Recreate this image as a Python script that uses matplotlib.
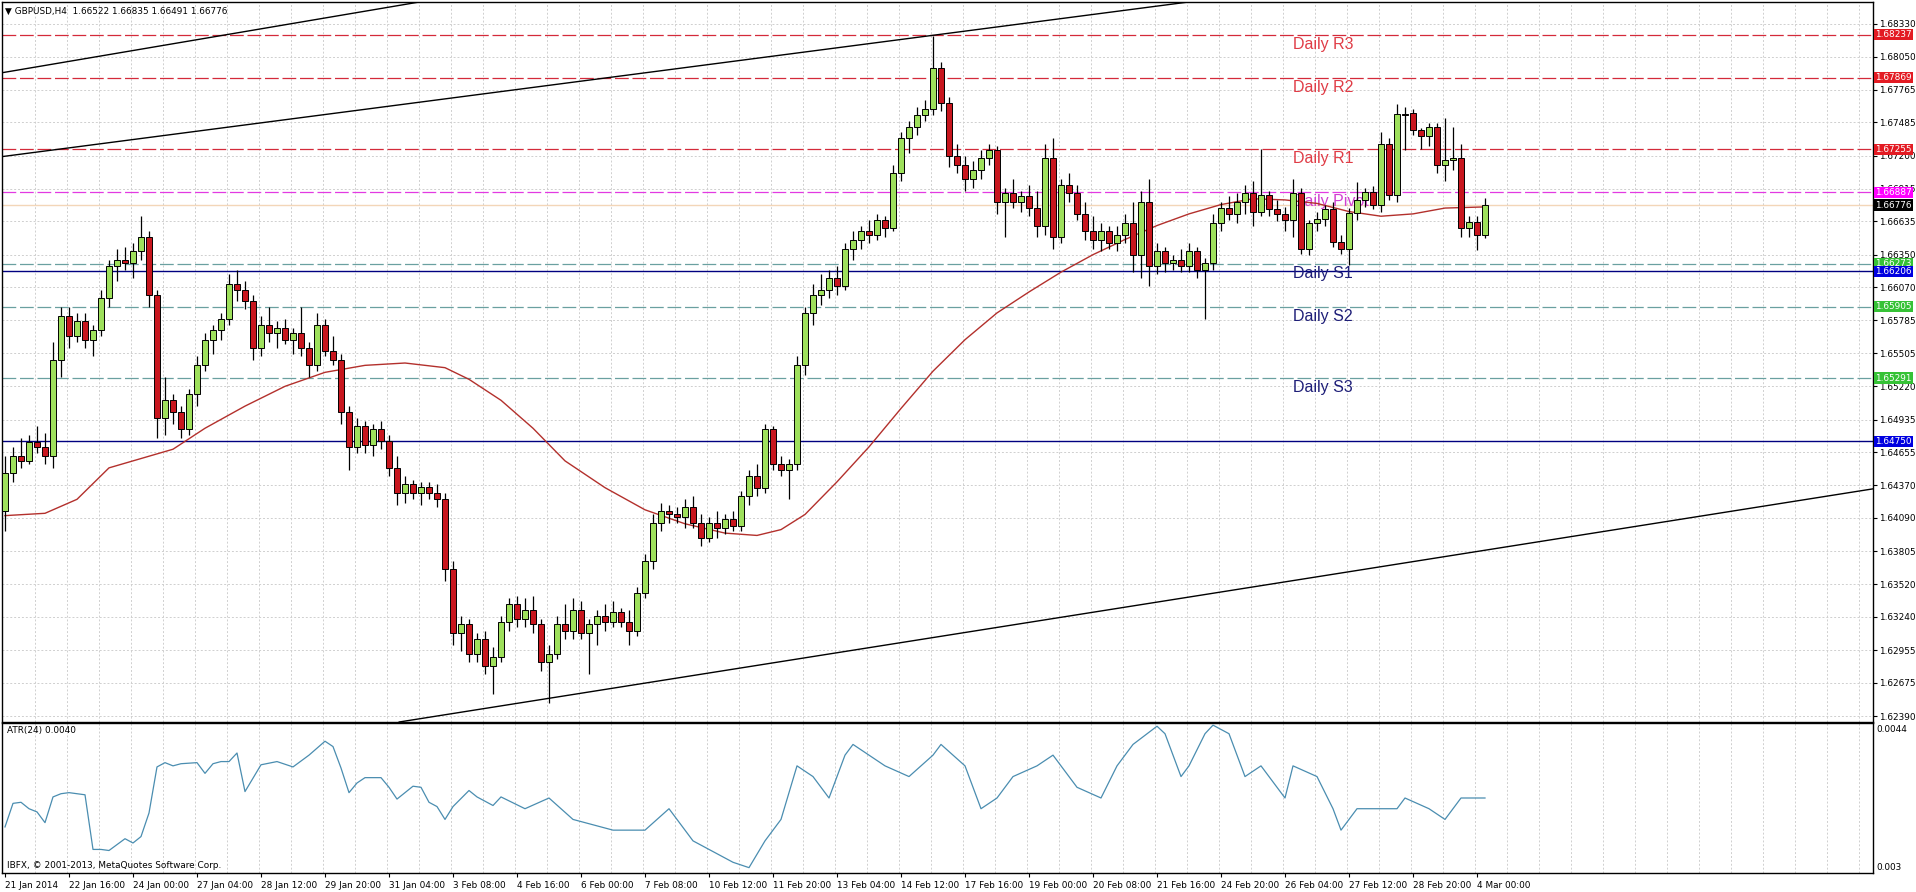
import matplotlib
matplotlib.use('Agg')
import matplotlib.pyplot as plt
from matplotlib.patches import Rectangle
from matplotlib.transforms import blended_transform_factory

# ---- data (GBPUSD H4, bar 0 = 21 Jan 2014 08:00) ----
opens = [1.6415, 1.6448, 1.6462, 1.6458, 1.6474, 1.6470, 1.6462, 1.6545, 1.6582, 1.6565,
         1.6578, 1.6562, 1.6570, 1.6598, 1.6625, 1.6630, 1.6628, 1.6638, 1.6650, 1.6600,
         1.6495, 1.6510, 1.6500, 1.6485, 1.6515, 1.6540, 1.6562, 1.6570, 1.6580, 1.6610,
         1.6605, 1.6595, 1.6555, 1.6575, 1.6568, 1.6572, 1.6562, 1.6568, 1.6555, 1.6540,
         1.6575, 1.6552, 1.6545, 1.6500, 1.6470, 1.6488, 1.6472, 1.6485, 1.6475, 1.6452,
         1.6430, 1.6438, 1.6430, 1.6436, 1.6430, 1.6425, 1.6365, 1.6310, 1.6318, 1.6292,
         1.6305, 1.6282, 1.6290, 1.6320, 1.6335, 1.6322, 1.6330, 1.6318, 1.6285, 1.6292,
         1.6318, 1.6312, 1.6330, 1.6310, 1.6318, 1.6325, 1.6320, 1.6328, 1.6320, 1.6312,
         1.6345, 1.6372, 1.6405, 1.6415, 1.6412, 1.6410, 1.6418, 1.6405, 1.6392, 1.6405,
         1.6400, 1.6408, 1.6402, 1.6428, 1.6445, 1.6435, 1.6485, 1.6455, 1.6450, 1.6455,
         1.6540, 1.6585, 1.6600, 1.6605, 1.6615, 1.6608, 1.6640, 1.6648, 1.6655, 1.6652,
         1.6665, 1.6658, 1.6705, 1.6735, 1.6745, 1.6755, 1.6760, 1.6795, 1.6765, 1.6720,
         1.6712, 1.6700, 1.6708, 1.6718, 1.6725, 1.6680, 1.6688, 1.6680, 1.6685, 1.6675,
         1.6660, 1.6718, 1.6650, 1.6695, 1.6688, 1.6670, 1.6655, 1.6648, 1.6655, 1.6645,
         1.6652, 1.6662, 1.6635, 1.6680, 1.6625, 1.6638, 1.6628, 1.6630, 1.6625, 1.6638,
         1.6622, 1.6628, 1.6662, 1.6675, 1.6670, 1.6680, 1.6688, 1.6672, 1.6686, 1.6674,
         1.6670, 1.6665, 1.6688, 1.6640, 1.6662, 1.6666, 1.6674, 1.6646, 1.6640, 1.6671,
         1.6682, 1.6689, 1.6678, 1.6730, 1.6686, 1.6756, 1.6757, 1.6742, 1.6737, 1.6745,
         1.6712, 1.6716, 1.6718, 1.6658, 1.6663, 1.66522]
highs = [1.6462, 1.6470, 1.6478, 1.6480, 1.6488, 1.6482, 1.6560, 1.6590, 1.6590, 1.6585,
         1.6585, 1.6575, 1.6605, 1.6630, 1.6640, 1.6642, 1.6645, 1.6668, 1.6655, 1.6605,
         1.6530, 1.6515, 1.6505, 1.6520, 1.6548, 1.6568, 1.6575, 1.6585, 1.6618, 1.6622,
         1.6612, 1.6600, 1.6582, 1.6590, 1.6578, 1.6580, 1.6572, 1.6590, 1.6560, 1.6585,
         1.6580, 1.6565, 1.6550, 1.6505, 1.6495, 1.6492, 1.6490, 1.6492, 1.6480, 1.6462,
         1.6445, 1.6442, 1.6440, 1.6440, 1.6438, 1.6430, 1.6372, 1.6325, 1.6322, 1.6310,
         1.6312, 1.6298, 1.6325, 1.6340, 1.6342, 1.6340, 1.6342, 1.6322, 1.6300, 1.6325,
         1.6335, 1.6340, 1.6338, 1.6322, 1.6330, 1.6335, 1.6338, 1.6332, 1.6330, 1.6350,
         1.6378, 1.6412, 1.6422, 1.6420, 1.6418, 1.6425, 1.6428, 1.6412, 1.6410, 1.6415,
         1.6412, 1.6415, 1.6432, 1.6450, 1.6455, 1.6490, 1.6488, 1.6462, 1.6460, 1.6548,
         1.6590, 1.6610, 1.6618, 1.6622, 1.6625, 1.6645, 1.6655, 1.6660, 1.6665, 1.6670,
         1.6668, 1.6712, 1.6740, 1.6750, 1.6762, 1.6768, 1.6823, 1.6800, 1.6770, 1.6730,
         1.6720, 1.6715, 1.6725, 1.6730, 1.6728, 1.6692, 1.6700, 1.6690, 1.6695, 1.6690,
         1.6730, 1.6735, 1.6700, 1.6705, 1.6695, 1.6680, 1.6668, 1.6662, 1.6660, 1.6660,
         1.6670, 1.6680, 1.6690, 1.6700, 1.6645, 1.6642, 1.6635, 1.6640, 1.6645, 1.6642,
         1.6632, 1.6670, 1.6680, 1.6685, 1.6688, 1.6695, 1.6698, 1.6726, 1.6690, 1.6682,
         1.6676, 1.6700, 1.6692, 1.6665, 1.6672, 1.6678, 1.6680, 1.6652, 1.6675, 1.6697,
         1.6692, 1.6694, 1.6740, 1.6735, 1.6764, 1.6762, 1.6760, 1.6744, 1.6748, 1.6748,
         1.6752, 1.6745, 1.6730, 1.6668, 1.6668, 1.66835]
lows = [1.6398, 1.6440, 1.6452, 1.6455, 1.6465, 1.6455, 1.6452, 1.6530, 1.6555, 1.6560,
        1.6555, 1.6548, 1.6565, 1.6590, 1.6612, 1.6622, 1.6615, 1.6630, 1.6590, 1.6478,
        1.6480, 1.6490, 1.6478, 1.6480, 1.6505, 1.6535, 1.6550, 1.6562, 1.6575, 1.6595,
        1.6588, 1.6545, 1.6548, 1.6560, 1.6555, 1.6558, 1.6550, 1.6548, 1.6530, 1.6535,
        1.6548, 1.6540, 1.6490, 1.6450, 1.6465, 1.6465, 1.6462, 1.6468, 1.6445, 1.6420,
        1.6422, 1.6425, 1.6420, 1.6425, 1.6418, 1.6355, 1.6300, 1.6295, 1.6285, 1.6285,
        1.6275, 1.6258, 1.6285, 1.6312, 1.6315, 1.6315, 1.6310, 1.6278, 1.6250, 1.6288,
        1.6305, 1.6305, 1.6305, 1.6275, 1.6300, 1.6312, 1.6315, 1.6315, 1.6300, 1.6308,
        1.6340, 1.6365, 1.6398, 1.6405, 1.6405, 1.6400, 1.6400, 1.6385, 1.6388, 1.6392,
        1.6395, 1.6398, 1.6398, 1.6420, 1.6428, 1.6430, 1.6450, 1.6445, 1.6425, 1.6450,
        1.6532, 1.6575, 1.6592, 1.6598, 1.6600, 1.6605, 1.6630, 1.6640, 1.6645, 1.6648,
        1.6650, 1.6655, 1.6698, 1.6722, 1.6738, 1.6750, 1.6755, 1.6758, 1.6710, 1.6705,
        1.6690, 1.6692, 1.6700, 1.6712, 1.6670, 1.6650, 1.6675, 1.6672, 1.6668, 1.6650,
        1.6652, 1.6640, 1.6645, 1.6680, 1.6665, 1.6648, 1.6640, 1.6638, 1.6640, 1.6638,
        1.6645, 1.6620, 1.6615, 1.6608, 1.6618, 1.6620, 1.6622, 1.6620, 1.6620, 1.6615,
        1.6580, 1.6622, 1.6655, 1.6665, 1.6662, 1.6670, 1.6660, 1.6668, 1.6668, 1.6664,
        1.6655, 1.6650, 1.6636, 1.6635, 1.6655, 1.6660, 1.6642, 1.6636, 1.6626, 1.6665,
        1.6676, 1.6674, 1.6672, 1.6682, 1.6680, 1.6725, 1.6738, 1.6726, 1.6728, 1.6705,
        1.6698, 1.6708, 1.6650, 1.6650, 1.6639, 1.66491]
closes = [1.6448, 1.6462, 1.6458, 1.6474, 1.6470, 1.6462, 1.6545, 1.6582, 1.6565, 1.6578,
          1.6562, 1.6570, 1.6598, 1.6625, 1.6630, 1.6628, 1.6638, 1.6650, 1.6600, 1.6495,
          1.6510, 1.6500, 1.6485, 1.6515, 1.6540, 1.6562, 1.6570, 1.6580, 1.6610, 1.6605,
          1.6595, 1.6555, 1.6575, 1.6568, 1.6572, 1.6562, 1.6568, 1.6555, 1.6540, 1.6575,
          1.6552, 1.6545, 1.6500, 1.6470, 1.6488, 1.6472, 1.6485, 1.6475, 1.6452, 1.6430,
          1.6438, 1.6430, 1.6436, 1.6430, 1.6425, 1.6365, 1.6310, 1.6318, 1.6292, 1.6305,
          1.6282, 1.6290, 1.6320, 1.6335, 1.6322, 1.6330, 1.6318, 1.6285, 1.6292, 1.6318,
          1.6312, 1.6330, 1.6310, 1.6318, 1.6325, 1.6320, 1.6328, 1.6320, 1.6312, 1.6345,
          1.6372, 1.6405, 1.6415, 1.6412, 1.6410, 1.6418, 1.6405, 1.6392, 1.6405, 1.6400,
          1.6408, 1.6402, 1.6428, 1.6445, 1.6435, 1.6485, 1.6455, 1.6450, 1.6455, 1.6540,
          1.6585, 1.6600, 1.6605, 1.6615, 1.6608, 1.6640, 1.6648, 1.6655, 1.6652, 1.6665,
          1.6658, 1.6705, 1.6735, 1.6745, 1.6755, 1.6760, 1.6795, 1.6765, 1.6720, 1.6712,
          1.6700, 1.6708, 1.6718, 1.6725, 1.6680, 1.6688, 1.6680, 1.6685, 1.6675, 1.6660,
          1.6718, 1.6650, 1.6695, 1.6688, 1.6670, 1.6655, 1.6648, 1.6655, 1.6645, 1.6652,
          1.6662, 1.6635, 1.6680, 1.6625, 1.6638, 1.6628, 1.6630, 1.6625, 1.6638, 1.6622,
          1.6628, 1.6662, 1.6675, 1.6670, 1.6680, 1.6688, 1.6672, 1.6686, 1.6674, 1.6670,
          1.6665, 1.6688, 1.6640, 1.6662, 1.6666, 1.6674, 1.6646, 1.6640, 1.6671, 1.6682,
          1.6689, 1.6678, 1.6730, 1.6686, 1.6756, 1.6755, 1.6742, 1.6737, 1.6745, 1.6712,
          1.6716, 1.6718, 1.6658, 1.6663, 1.6652, 1.66776]

# moving average
ma_bars = [0, 5, 9, 13, 17, 21, 25, 30, 35, 40, 45, 50, 55, 58, 62, 66, 70, 75, 80, 85,
           90, 94, 97, 100, 104, 108, 112, 116, 120, 124, 128, 132, 136, 140, 144, 148,
           152, 156, 160, 164, 168, 172, 176, 180, 185]
ma_vals = [1.6411, 1.6413, 1.6425, 1.6452, 1.6460, 1.6468, 1.6486, 1.6505, 1.6522, 1.6534,
           1.6540, 1.6542, 1.6538, 1.6528, 1.6510, 1.6486, 1.6458, 1.6435, 1.6416, 1.6404,
           1.6396, 1.6394, 1.6399, 1.6412, 1.6440, 1.6470, 1.6503, 1.6535, 1.6562, 1.6585,
           1.6603, 1.6620, 1.6635, 1.6648, 1.6660, 1.6670, 1.6678, 1.6683, 1.6682, 1.6679,
           1.6672, 1.6668, 1.6670, 1.6675, 1.6676]

# ATR(24)
atr_bars = [0, 1, 2, 3, 4, 5, 6, 7, 8, 10, 11, 12, 13, 15, 16, 17, 18, 19, 20, 21,
            22, 24, 25, 26, 27, 28, 29, 30, 32, 34, 36, 38, 40, 41, 42, 43, 44, 45, 47, 48,
            49, 51, 52, 53, 54, 55, 56, 58, 59, 61, 62, 65, 68, 71, 76, 80, 83, 86, 91, 93,
            95, 97, 99, 101, 103, 105, 106, 110, 113, 116, 117, 120, 122, 124, 126, 129, 131, 134, 137, 139,
            141, 144, 145, 147, 148, 150, 151, 153, 155, 157, 160, 161, 164, 166, 167, 169, 171, 174, 175, 178,
            180, 182, 185]
atr_vals = [0.00343, 0.00365, 0.00366, 0.00360, 0.00357, 0.00347, 0.00371, 0.00374, 0.00375, 0.00373,
            0.00322, 0.00322, 0.00321, 0.00332, 0.00328, 0.00334, 0.00356, 0.00399, 0.00403, 0.00400,
            0.00402, 0.00403, 0.00393, 0.00402, 0.00404, 0.00404, 0.00412, 0.00376, 0.00401, 0.00404,
            0.00399, 0.00410, 0.00423, 0.00418, 0.00398, 0.00375, 0.00384, 0.00389, 0.00389, 0.00380,
            0.00369, 0.00381, 0.00380, 0.00366, 0.00362, 0.00350, 0.00362, 0.00377, 0.00371, 0.00363,
            0.00371, 0.00360, 0.00370, 0.00350, 0.00340, 0.00340, 0.00360, 0.00330, 0.00310, 0.00305,
            0.00330, 0.00350, 0.00400, 0.00390, 0.00370, 0.00410, 0.00420, 0.00400, 0.00390, 0.00410,
            0.00420, 0.00400, 0.00360, 0.00370, 0.00390, 0.00400, 0.00410, 0.00380, 0.00370, 0.00400,
            0.00420, 0.00437, 0.00430, 0.00390, 0.00400, 0.00430, 0.00438, 0.00430, 0.00390, 0.00400,
            0.00370, 0.00400, 0.00390, 0.00360, 0.00340, 0.00360, 0.00360, 0.00360, 0.00370, 0.00360,
            0.00350, 0.00370, 0.00370]

# chart objects
levels = [1.68237, 1.67869, 1.67255, 1.66887, 1.66273, 1.65905, 1.65291]
level_names = ['Daily R3', 'Daily R2', 'Daily R1', 'Daily Pivot', 'Daily S1', 'Daily S2', 'Daily S3']
hlines_solid = [1.66206, 1.64750]
bid = 1.66776
trend_lines = [((0, 1.67916), (50, 1.68498)),
               ((0, 1.67195), (116, 1.68233)),
               ((68, 1.62542), (185, 1.63813))]

yticks = [1.68330, 1.68050, 1.67765, 1.67485, 1.67200, 1.66915, 1.66635, 1.66350, 1.66070,
          1.65785, 1.65505, 1.65220, 1.64935, 1.64655, 1.64370, 1.64090, 1.63805, 1.63520,
          1.63240, 1.62955, 1.62675, 1.62390]
xlabels = ['21 Jan 2014', '22 Jan 16:00', '24 Jan 00:00', '27 Jan 04:00', '28 Jan 12:00',
           '29 Jan 20:00', '31 Jan 04:00', '3 Feb 08:00', '4 Feb 16:00', '6 Feb 00:00',
           '7 Feb 08:00', '10 Feb 12:00', '11 Feb 20:00', '13 Feb 04:00', '14 Feb 12:00',
           '17 Feb 16:00', '19 Feb 00:00', '20 Feb 08:00', '21 Feb 16:00', '24 Feb 20:00',
           '26 Feb 04:00', '27 Feb 12:00', '28 Feb 20:00', '4 Mar 00:00']

# ---- figure ----
W, H = 1916, 892
fs = 6.4  # small MT4-style text
fig = plt.figure(figsize=(W / 100, H / 100), dpi=100)
fig.patch.set_facecolor('white')
ax = fig.add_axes([2 / W, (H - 722) / H, 1871 / W, 720 / H])
ax2 = fig.add_axes([2 / W, (H - 873) / H, 1871 / W, 150 / H])

xl = (-0.375, 233.5)
ax.set_xlim(*xl)
ax.set_ylim(1.623386, 1.685188)
ax2.set_xlim(*xl)
ax2.set_ylim(0.0030, 0.0044)

grid_kw = dict(color='#cfcfcf', lw=0.7, ls=(0, (2, 2)), zorder=0)
for a in (ax, ax2):
    for k in range(1, 59):
        a.axvline(4 * k - 0.25, **grid_kw)
    for s in a.spines.values():
        s.set_color('black')
        s.set_linewidth(1.0)
for y in yticks:
    ax.axhline(y, **grid_kw)

# pivot levels
r_col, p_col, s_col = '#d42a3a', '#e23ae2', '#6aa0a0'
for lv, name in zip(levels, level_names):
    if 'R' in name:
        lc, tc = r_col, '#e03c46'
    elif 'Pivot' in name:
        lc, tc = p_col, '#d040d0'
    else:
        lc, tc = s_col, '#1e1e78'
    ax.axhline(lv, color=lc, lw=0.9, ls=(0, (11, 3)), zorder=1)
    ax.text(161, lv - 0.00082, name, color=tc, fontsize=11.5, family='Liberation Sans',
            va='center', ha='left', zorder=2)
for lv in hlines_solid:
    ax.axhline(lv, color='#000080', lw=1.0, zorder=1)
ax.axhline(bid, color='#f3d6b8', lw=1.0, zorder=1)

for p1, p2 in trend_lines:
    ax.axline(p1, p2, color='black', lw=1.0, zorder=2)

ax.plot(ma_bars, ma_vals, color='#b3302c', lw=1.0, zorder=2.5)

# candles
bull, bear = '#9ee05c', '#c8161e'
for i, (o, h, l, c) in enumerate(zip(opens, highs, lows, closes)):
    ax.plot([i, i], [l, h], color='black', lw=0.9, zorder=3, solid_capstyle='butt')
    bot = min(o, c)
    hgt = max(abs(c - o), 0.00001)
    ax.add_patch(Rectangle((i - 0.33, bot), 0.66, hgt, facecolor=bull if c >= o else bear,
                           edgecolor='black', lw=0.7, zorder=4))

# ATR
ax2.plot(atr_bars, atr_vals, color='#4a8db0', lw=0.9, zorder=3)

# axes ticks
ax.yaxis.tick_right()
ax.set_yticks(yticks)
ax.set_yticklabels([f'{v:.5f}' for v in yticks])
ax.tick_params(axis='y', length=3, width=0.8, pad=1.5, labelsize=fs, colors='black')
ax.set_xticks([])
ax2.set_yticks([])
ax2.set_xticks([8 * k for k in range(len(xlabels))])
ax2.set_xticklabels(xlabels)
ax2.tick_params(axis='x', length=3, width=0.8, pad=3, labelsize=fs)
for lab in ax2.get_xticklabels():
    lab.set_ha('left')

# right-hand price labels
tr = blended_transform_factory(ax.transAxes, ax.transData)
boxes = [(1.68237, '#e31b23'), (1.67869, '#e31b23'), (1.67255, '#e31b23'),
         (1.66887, '#ff00ff'), (1.66776, '#000000'), (1.66273, '#36c236'),
         (1.66206, '#0000e0'), (1.65905, '#36c236'), (1.65291, '#36c236'),
         (1.64750, '#0000e0')]
for v, col in boxes:
    ax.text(1.0012, v, f'{v:.5f}', transform=tr, ha='left', va='center', fontsize=fs,
            color='white', clip_on=False, zorder=10,
            bbox=dict(boxstyle='square,pad=0.12', fc=col, ec='none'))

# texts
fig.text(5 / W, 1 - 11 / H, '\u25bc GBPUSD,H4  1.66522 1.66835 1.66491 1.66776',
         fontsize=fs, va='center', ha='left')
fig.text(7 / W, 1 - 731 / H, 'ATR(24) 0.0040', fontsize=fs, va='center', ha='left')
fig.text(7 / W, 1 - 866 / H, 'IBFX, \u00a9 2001-2013, MetaQuotes Software Corp.',
         fontsize=fs, va='center', ha='left')
fig.text(1876 / W, 1 - 730 / H, '0.0044', fontsize=fs, va='center', ha='left')
fig.text(1876 / W, 1 - 867 / H, '0.003', fontsize=fs, va='center', ha='left')

fig.savefig('out.png', dpi=100, facecolor='white')
